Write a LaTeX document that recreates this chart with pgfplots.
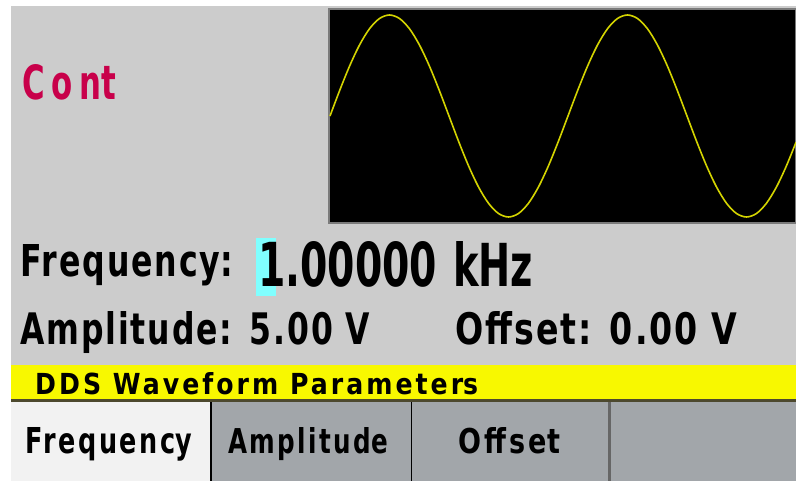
\documentclass[border=0pt]{standalone}
\usepackage{pgfplots}
\pgfplotsset{compat=1.18}
\usepackage{graphicx}
\usepackage{fontspec}
\setmainfont{DejaVu Sans}
\definecolor{panel}{HTML}{CCCCCC}
\definecolor{crim}{HTML}{C8004A}
\definecolor{lcdyel}{HTML}{F8F800}
\definecolor{trace}{HTML}{D4D400}
\definecolor{cyanhl}{HTML}{80FFFF}
\definecolor{menugray}{HTML}{A2A6AA}
\definecolor{menuwhite}{HTML}{F2F2F2}
\definecolor{boxedge}{HTML}{7A7A7A}
\newcommand{\fit}[4]{\resizebox{#1pt}{#2pt}{\bfseries\addfontfeature{LetterSpace=#3}#4\kern-#3em\kern#3em}}
\begin{document}
\begin{tikzpicture}[x=1pt,y=1pt]
\useasboundingbox (0pt,0pt) rectangle (796pt,481pt);
\fill[white] (0,0) rectangle (796,481);
% gray panel
\fill[panel] (11,116) rectangle (796,475);
% waveform window
\begin{axis}[
  at={(329pt,258pt)}, anchor=south west,
  width=467pt, height=214pt, scale only axis,
  xmin=-1.5, xmax=704.9, ymin=-1.0594, ymax=1.0594,
  xtick=\empty, ytick=\empty,
  axis background/.style={fill=black},
  axis line style={draw=boxedge, line width=1.5pt},
]
\addplot[trace, line width=1.6pt, smooth] coordinates {
(0,0) (15,0.2588) (30,0.5) (45,0.7071) (60,0.8660) (75,0.9659) (90,1)
(105,0.9659) (120,0.8660) (135,0.7071) (150,0.5) (165,0.2588) (180,0)
(195,-0.2588) (210,-0.5) (225,-0.7071) (240,-0.8660) (255,-0.9659) (270,-1)
(285,-0.9659) (300,-0.8660) (315,-0.7071) (330,-0.5) (345,-0.2588) (360,0)
(375,0.2588) (390,0.5) (405,0.7071) (420,0.8660) (435,0.9659) (450,1)
(465,0.9659) (480,0.8660) (495,0.7071) (510,0.5) (525,0.2588) (540,0)
(555,-0.2588) (570,-0.5) (585,-0.7071) (600,-0.8660) (615,-0.9659) (630,-1)
(645,-0.9659) (660,-0.8660) (675,-0.7071) (690,-0.5) (705,-0.2588)
};
\end{axis}
% texts
\node[anchor=base west, inner sep=0, text=crim] at (22pt,381pt) {\fit{94}{35}{0}{\addfontfeature{LetterSpace=22}Con\kern0ptt}};
\node[anchor=base west, inner sep=0] at (20pt,204pt) {\fit{213}{32}{0}{\addfontfeature{LetterSpace=6}Frequency\kern0pt:}};
\fill[cyanhl] (256pt,185pt) rectangle (276pt,243pt);
\node[anchor=base west, inner sep=0] at (258pt,194pt) {\fit{179}{45}{0}{1.00000}};
\node[anchor=base west, inner sep=0] at (453pt,194pt) {\fit{80}{45}{0}{kHz}};
\node[anchor=base west, inner sep=0] at (20pt,136pt) {\fit{350}{33}{0}{\addfontfeature{LetterSpace=6}Amplitude: 5.00 \kern0ptV}};
\node[anchor=base west, inner sep=0] at (455pt,136pt) {\fit{282}{33}{0}{\addfontfeature{LetterSpace=6}Offset: 0.00 \kern0ptV}};
% yellow bar
\fill[lcdyel] (11pt,81pt) rectangle (796pt,116pt);
\fill[black!60!olive] (11pt,79pt) rectangle (796pt,81.5pt);
\node[anchor=base west, inner sep=0] at (35pt,86pt) {\fit{443}{22}{0}{\addfontfeature{LetterSpace=12}DDS Waveform Parameter\kern0pts}};
% menu
\fill[menuwhite] (11pt,0pt) rectangle (210pt,79pt);
\fill[menugray] (210pt,0pt) rectangle (796pt,79pt);
\fill[black] (210pt,0pt) rectangle (212pt,79pt);
\fill[black] (410.5pt,0pt) rectangle (412pt,79pt);
\fill[black!60] (608pt,0pt) rectangle (611pt,79pt);
\node[anchor=base west, inner sep=0] at (25pt,27pt) {\fit{167}{26}{0}{\addfontfeature{LetterSpace=10}Frequenc\kern0pty}};
\node[anchor=base west, inner sep=0] at (228pt,27pt) {\fit{160}{26}{0}{\addfontfeature{LetterSpace=10}Amplitud\kern0pte}};
\node[anchor=base west, inner sep=0] at (458pt,27pt) {\fit{102}{26}{0}{\addfontfeature{LetterSpace=12}Offse\kern0ptt}};
\end{tikzpicture}
\end{document}
